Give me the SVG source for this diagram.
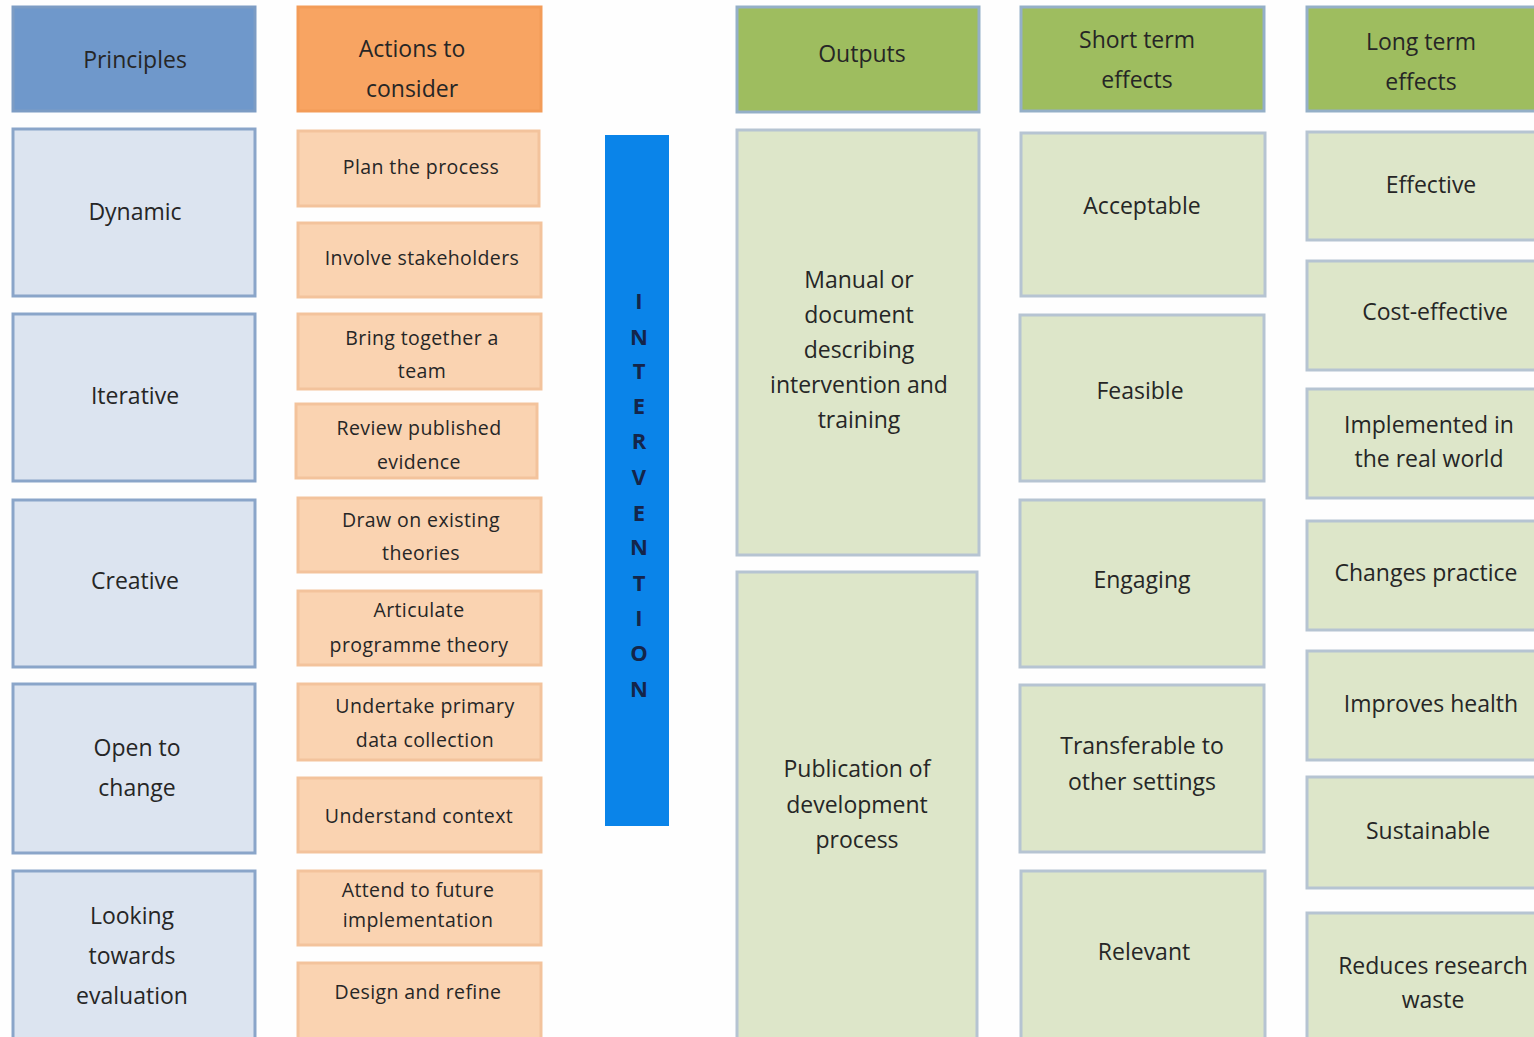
<svg xmlns="http://www.w3.org/2000/svg" width="1534" height="1037" viewBox="0 0 1534 1037">
<style>
text{font-family:"Open Sans","Liberation Sans",sans-serif;fill:#262626;text-anchor:middle}
.t23{font-size:23px}
.t19{font-size:19.5px;letter-spacing:0.4px}
.hb{fill:#6f98cb;stroke:#7c9cc4;stroke-width:3}
.pb{fill:#dce4f0;stroke:#8aa5c9;stroke-width:3}
.ho{fill:#f8a462;stroke:#f39c58;stroke-width:3}
.ob{fill:#fad3b1;stroke:#f3c39c;stroke-width:3}
.hg{fill:#9ebd5f;stroke:#94afc7;stroke-width:3}
.gb{fill:#dde6c9;stroke:#b6c4d2;stroke-width:3}
.iv{font-size:22px;font-weight:bold;fill:#14254a}
</style>
<rect x="0" y="0" width="1534" height="1037" fill="#fefefe"/>
<g id="connectors"></g>
<!-- Principles -->
<g id="principles-header"><rect class="hb" x="13" y="7" width="242" height="104"/><text class="t23" x="135" y="68">Principles</text></g>
<g id="dynamic"><rect class="pb" x="13" y="129" width="242" height="167"/><text class="t23" x="135" y="220">Dynamic</text></g>
<g id="iterative"><rect class="pb" x="13" y="314" width="242" height="167"/><text class="t23" x="135" y="404">Iterative</text></g>
<g id="creative"><rect class="pb" x="13" y="500" width="242" height="167"/><text class="t23" x="135" y="589">Creative</text></g>
<g id="open"><rect class="pb" x="13" y="684" width="242" height="169"/><text class="t23" x="137" y="756">Open to</text><text class="t23" x="137" y="796">change</text></g>
<g id="looking"><rect class="pb" x="13" y="871" width="242" height="170"/><text class="t23" x="132" y="924">Looking</text><text class="t23" x="132" y="964">towards</text><text class="t23" x="132" y="1004">evaluation</text></g>
<!-- Actions -->
<g id="actions-header"><rect class="ho" x="298" y="7" width="243" height="104"/><text class="t23" x="412" y="57">Actions to</text><text class="t23" x="412" y="97">consider</text></g>
<g id="a1"><rect class="ob" x="298" y="131" width="241" height="75"/><text class="t19" x="421" y="174">Plan the process</text></g>
<g id="a2"><rect class="ob" x="298" y="223" width="243" height="74"/><text class="t19" x="422" y="265">Involve stakeholders</text></g>
<g id="a3"><rect class="ob" x="298" y="314" width="243" height="75"/><text class="t19" x="422" y="345">Bring together a</text><text class="t19" x="422" y="378">team</text></g>
<g id="a4"><rect class="ob" x="296" y="404" width="241" height="74"/><text class="t19" x="419" y="435">Review published</text><text class="t19" x="419" y="469">evidence</text></g>
<g id="a5"><rect class="ob" x="298" y="498" width="243" height="74"/><text class="t19" x="421" y="527">Draw on existing</text><text class="t19" x="421" y="560">theories</text></g>
<g id="a6"><rect class="ob" x="298" y="591" width="243" height="74"/><text class="t19" x="419" y="617">Articulate</text><text class="t19" x="419" y="652">programme theory</text></g>
<g id="a7"><rect class="ob" x="298" y="684" width="243" height="76"/><text class="t19" x="425" y="713">Undertake primary</text><text class="t19" x="425" y="747">data collection</text></g>
<g id="a8"><rect class="ob" x="298" y="778" width="243" height="74"/><text class="t19" x="419" y="823">Understand context</text></g>
<g id="a9"><rect class="ob" x="298" y="871" width="243" height="74"/><text class="t19" x="418" y="897">Attend to future</text><text class="t19" x="418" y="927">implementation</text></g>
<g id="a10"><rect class="ob" x="298" y="963" width="243" height="78"/><text class="t19" x="418" y="999">Design and refine</text></g>
<!-- Intervention -->
<g id="intervention"><rect x="605" y="135" width="64" height="691" fill="#0a84e9"/>
<text class="iv" x="639" y="309">I</text><text class="iv" x="639" y="345">N</text><text class="iv" x="639" y="379">T</text><text class="iv" x="639" y="414">E</text><text class="iv" x="639" y="449">R</text><text class="iv" x="639" y="485">V</text><text class="iv" x="639" y="521">E</text><text class="iv" x="639" y="555">N</text><text class="iv" x="639" y="591">T</text><text class="iv" x="639" y="626">I</text><text class="iv" x="639" y="661">O</text><text class="iv" x="639" y="697">N</text></g>
<!-- Outputs -->
<g id="outputs-header"><rect class="hg" x="737" y="7" width="242" height="105"/><text class="t23" x="862" y="62">Outputs</text></g>
<g id="manual"><rect class="gb" x="737" y="130" width="242" height="425"/><text class="t23" x="859" y="288">Manual or</text><text class="t23" x="859" y="323">document</text><text class="t23" x="859" y="358">describing</text><text class="t23" x="859" y="393">intervention and</text><text class="t23" x="859" y="428">training</text></g>
<g id="publication"><rect class="gb" x="737" y="572" width="240" height="470"/><text class="t23" x="857" y="777">Publication of</text><text class="t23" x="857" y="813">development</text><text class="t23" x="857" y="848">process</text></g>
<!-- Short term -->
<g id="short-header"><rect class="hg" x="1021" y="7" width="243" height="104"/><text class="t23" x="1137" y="48">Short term</text><text class="t23" x="1137" y="88">effects</text></g>
<g id="acceptable"><rect class="gb" x="1021" y="133" width="244" height="163"/><text class="t23" x="1142" y="214">Acceptable</text></g>
<g id="feasible"><rect class="gb" x="1020" y="315" width="244" height="166"/><text class="t23" x="1140" y="399">Feasible</text></g>
<g id="engaging"><rect class="gb" x="1020" y="500" width="244" height="167"/><text class="t23" x="1142" y="588">Engaging</text></g>
<g id="transferable"><rect class="gb" x="1020" y="685" width="244" height="167"/><text class="t23" x="1142" y="754">Transferable to</text><text class="t23" x="1142" y="790">other settings</text></g>
<g id="relevant"><rect class="gb" x="1021" y="871" width="244" height="170"/><text class="t23" x="1144" y="960">Relevant</text></g>
<!-- Long term -->
<g id="long-header"><rect class="hg" x="1307" y="7" width="240" height="104"/><text class="t23" x="1421" y="50">Long term</text><text class="t23" x="1421" y="90">effects</text></g>
<g id="effective"><rect class="gb" x="1307" y="132" width="240" height="108"/><text class="t23" x="1431" y="193">Effective</text></g>
<g id="cost"><rect class="gb" x="1307" y="261" width="240" height="109"/><text class="t23" x="1435" y="320">Cost-effective</text></g>
<g id="implemented"><rect class="gb" x="1307" y="389" width="240" height="109"/><text class="t23" x="1429" y="433">Implemented in</text><text class="t23" x="1429" y="467">the real world</text></g>
<g id="changes"><rect class="gb" x="1307" y="521" width="240" height="109"/><text class="t23" x="1426" y="581">Changes practice</text></g>
<g id="improves"><rect class="gb" x="1307" y="651" width="240" height="109"/><text class="t23" x="1431" y="712">Improves health</text></g>
<g id="sustainable"><rect class="gb" x="1307" y="777" width="240" height="111"/><text class="t23" x="1428" y="839">Sustainable</text></g>
<g id="reduces"><rect class="gb" x="1307" y="913" width="240" height="128"/><text class="t23" x="1433" y="974">Reduces research</text><text class="t23" x="1433" y="1008">waste</text></g>
</svg>
